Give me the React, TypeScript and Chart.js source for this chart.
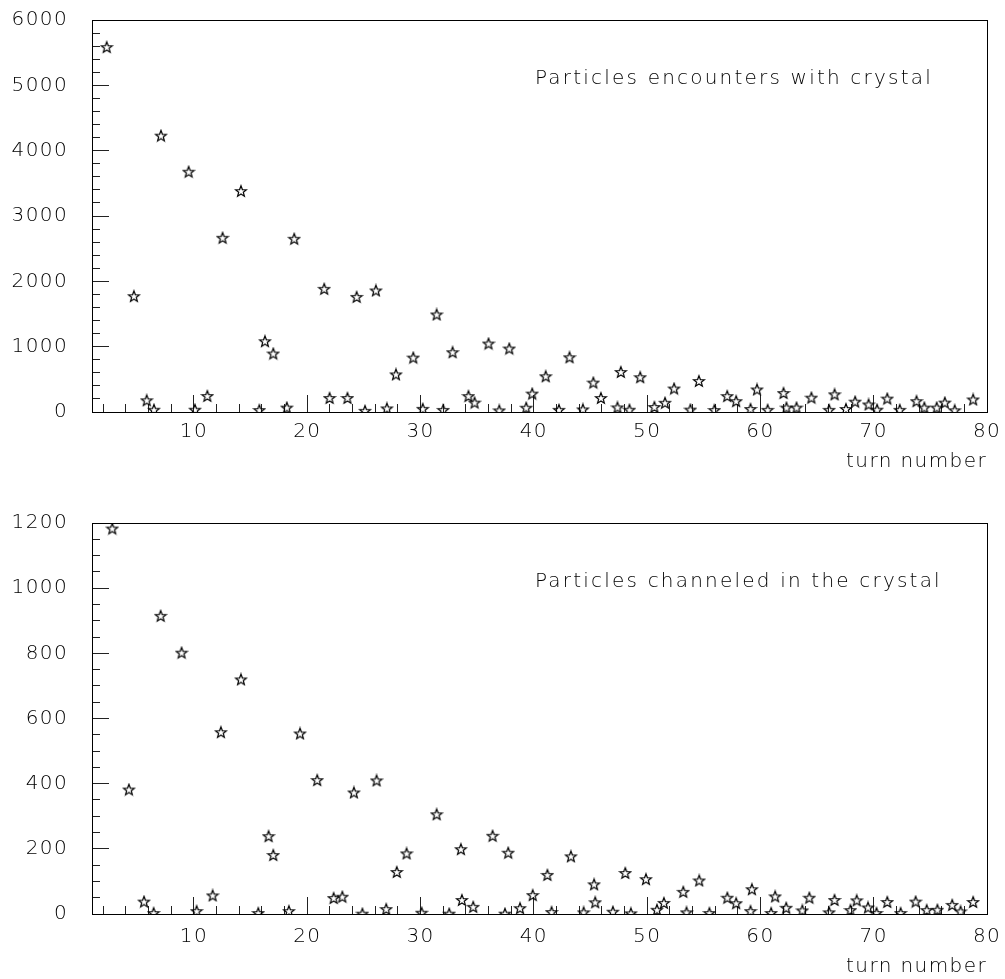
import { useEffect, useRef } from 'react';
import { Chart, registerables } from 'chart.js';

Chart.register(...registerables);

// Particles encountering the crystal, per turn
const encounterTurn = [
  2.3, 4.7, 5.83, 6.47, 7.09, 9.53, 10.09, 11.18, 12.53, 14.15,
  15.77, 16.27, 17.0, 18.2, 18.85, 21.5, 21.97, 23.55, 24.36, 25.1,
  26.06, 27.03, 27.83, 29.36, 30.2, 31.42, 32.0, 32.83, 34.23, 34.77,
  36.0, 36.95, 37.83, 39.33, 39.86, 41.05, 42.22, 43.15, 44.33, 45.25,
  45.92, 47.38, 47.68, 48.44, 49.39, 50.64, 51.58, 52.38, 53.82, 54.57,
  55.94, 57.07, 57.86, 59.13, 59.7, 60.64, 62.04, 62.3, 63.19, 64.5,
  66.07, 66.55, 67.55, 68.36, 69.55, 70.3, 71.2, 72.3, 73.78, 74.47,
  75.56, 76.28, 77.15, 78.78,
];
const encounterCount = [
  5585, 1773, 179, 35, 4230, 3678, 35, 245, 2667, 3382,
  30, 1083, 895, 67, 2651, 1885, 215, 215, 1762, 18,
  1860, 55, 575, 833, 48, 1493, 32, 915, 243, 144,
  1048, 24, 971, 66, 282, 547, 33, 838, 40, 450,
  215, 70, 613, 35, 532, 77, 141, 359, 37, 475,
  30, 243, 166, 46, 345, 33, 290, 67, 67, 220,
  33, 270, 46, 158, 115, 36, 205, 33, 166, 67,
  67, 144, 26, 192,
];

// Particles channeled in the crystal, per turn
const channeledTurn = [
  2.79, 4.26, 5.59, 6.44, 7.06, 8.91, 10.24, 11.65, 12.38, 14.15,
  15.68, 16.59, 17.0, 18.38, 19.36, 20.88, 22.33, 23.1, 24.12, 24.87,
  26.12, 26.97, 27.9, 28.77, 30.1, 31.42, 32.53, 33.56, 33.65, 34.65,
  36.36, 37.45, 37.74, 38.78, 39.9, 41.2, 41.57, 43.27, 44.4, 45.32,
  45.42, 46.98, 48.07, 48.57, 49.9, 50.87, 51.48, 53.19, 53.48, 54.6,
  55.5, 57.08, 57.86, 59.13, 59.25, 60.95, 61.3, 62.28, 63.7, 64.32,
  66.07, 66.54, 67.95, 68.5, 69.5, 70.25, 71.2, 72.38, 73.7, 74.68,
  75.62, 76.93, 77.67, 78.78,
];
const channeledCount = [
  1183, 382, 38, 3, 915, 802, 9, 57, 558, 720,
  3, 239, 181, 9, 554, 411, 49, 53, 373, 1,
  410, 15, 129, 186, 4, 306, 1, 199, 43, 22,
  240, 1, 188, 18, 58, 120, 6, 177, 5, 91,
  36, 7, 126, 2, 107, 13, 34, 68, 5, 103,
  3, 50, 33, 9, 76, 3, 54, 19, 11, 50,
  5, 43, 12, 42, 20, 3, 37, 3, 38, 12,
  13, 28, 8, 37,
];

// Axis tick positions
const turnMajorTicks = [10, 20, 30, 40, 50, 60, 70, 80];
const turnMinorTicks = [
  2, 4, 6, 8, 12, 14, 16, 18, 22, 24, 26, 28, 32, 34, 36, 38,
  42, 44, 46, 48, 52, 54, 56, 58, 62, 64, 66, 68, 72, 74, 76, 78,
];
const encounterMajorTicks = [0, 1000, 2000, 3000, 4000, 5000, 6000];
const encounterMinorTicks = [
  200, 400, 600, 800, 1200, 1400, 1600, 1800, 2200, 2400, 2600, 2800,
  3200, 3400, 3600, 3800, 4200, 4400, 4600, 4800, 5200, 5400, 5600, 5800,
];
const channeledMajorTicks = [0, 200, 400, 600, 800, 1000, 1200];
const channeledMinorTicks = [
  50, 100, 150, 250, 300, 350, 450, 500, 550, 650, 700, 750,
  850, 900, 950, 1050, 1100, 1150,
];

const FONT_FAMILY = '"DejaVu Sans", "Liberation Sans", sans-serif';
const axisFont = { family: FONT_FAMILY, size: 20, weight: 200 as any };

// Open five-pointed star marker
function makeStarMarker(): HTMLCanvasElement {
  const size = 14;
  const c = document.createElement('canvas');
  c.width = size;
  c.height = size;
  const ctx = c.getContext('2d')!;
  const cx = size / 2;
  const cy = size / 2 + 0.5;
  const outer = 5.8;
  const inner = 2.4;
  ctx.beginPath();
  for (let i = 0; i < 10; i++) {
    const a = -Math.PI / 2 + (i * Math.PI) / 5;
    const r = i % 2 === 0 ? outer : inner;
    const px = cx + r * Math.cos(a);
    const py = cy + r * Math.sin(a);
    if (i === 0) ctx.moveTo(px, py);
    else ctx.lineTo(px, py);
  }
  ctx.closePath();
  ctx.lineWidth = 1.2;
  ctx.strokeStyle = '#000';
  ctx.stroke();
  return c;
}

// Wider letter spacing for the axis text
const spacingPlugin = {
  id: 'letterSpacing',
  beforeDraw(chart: any) {
    (chart.ctx as any).letterSpacing = '1.4px';
  },
  afterDraw(chart: any) {
    (chart.ctx as any).letterSpacing = '0px';
  },
};

// Caption written inside the plot frame
const captionPlugin = {
  id: 'panelCaption',
  afterDatasetsDraw(chart: any, _args: any, opts: any) {
    const { ctx, chartArea } = chart;
    ctx.save();
    (ctx as any).letterSpacing = '2.2px';
    ctx.font = `200 20px ${FONT_FAMILY}`;
    ctx.fillStyle = '#000';
    ctx.textAlign = 'left';
    ctx.textBaseline = 'alphabetic';
    ctx.fillText(opts.text, opts.x, chartArea.top + opts.dy);
    ctx.restore();
  },
};

// Axes sit flush on the plot frame: no extra room for label overhang
const noOverhang = (s: any) => {
  s.paddingLeft = 0;
  s.paddingRight = 0;
  s.paddingTop = 0;
  s.paddingBottom = 0;
};

interface PanelSpec {
  turns: number[];
  counts: number[];
  yMax: number;
  yMajor: number[];
  yMinor: number[];
  caption: string;
  padTop: number;
  xAxisHeight: number;
  xLabelPad: number;
  xTitlePad: number;
}

function buildChart(canvas: HTMLCanvasElement, spec: PanelSpec, star: HTMLCanvasElement) {
  const setTicks = (list: number[]) => (s: any) => {
    s.ticks = list.map((v) => ({ value: v }));
  };
  const minorGrid = { drawOnChartArea: false, tickLength: -8, tickColor: '#222', tickWidth: 1 };
  const majorGrid = { drawOnChartArea: false, tickLength: -17, tickColor: '#222', tickWidth: 1 };
  const frameBorder = { display: true, color: '#000', width: 1 };

  return new Chart(canvas, {
    type: 'scatter',
    data: {
      datasets: [
        {
          data: spec.turns.map((t, i) => ({ x: t, y: spec.counts[i] })),
          pointStyle: star as any,
          pointRadius: 6,
          pointHoverRadius: 6,
          showLine: false,
          xAxisID: 'x',
          yAxisID: 'y',
        },
      ],
    },
    options: {
      responsive: false,
      animation: false,
      devicePixelRatio: 1,
      events: [],
      layout: { padding: { left: 0, right: 18, top: spec.padTop, bottom: 0 } },
      plugins: {
        legend: { display: false },
        tooltip: { enabled: false },
        panelCaption: { text: spec.caption, x: 535, dy: 64 },
      } as any,
      scales: {
        x: {
          type: 'linear',
          position: 'bottom',
          weight: 1,
          min: 1,
          max: 80,
          afterBuildTicks: setTicks(turnMajorTicks),
          afterFit: (s: any) => {
            s.height = spec.xAxisHeight;
            noOverhang(s);
          },
          ticks: {
            color: '#000',
            font: axisFont,
            padding: spec.xLabelPad,
            maxRotation: 0,
            autoSkip: false,
            callback: (v: any) => String(v),
          },
          grid: majorGrid,
          border: frameBorder,
          title: {
            display: true,
            text: 'turn number',
            align: 'end',
            color: '#000',
            font: axisFont,
            padding: { top: 0, bottom: spec.xTitlePad },
          },
        },
        xMinor: {
          type: 'linear',
          position: 'bottom',
          weight: 0,
          min: 1,
          max: 80,
          afterBuildTicks: setTicks(turnMinorTicks),
          afterFit: (s: any) => {
            s.height = 0;
            noOverhang(s);
          },
          ticks: { display: false },
          grid: minorGrid,
          border: { display: false },
        },
        xTop: {
          type: 'linear',
          position: 'top',
          min: 1,
          max: 80,
          afterFit: (s: any) => {
            s.height = 0;
            noOverhang(s);
          },
          ticks: { display: false },
          grid: { display: false },
          border: frameBorder,
        },
        y: {
          type: 'linear',
          position: 'left',
          weight: 1,
          min: 0,
          max: spec.yMax,
          afterBuildTicks: setTicks(spec.yMajor),
          afterFit: (s: any) => {
            s.width = 92;
            noOverhang(s);
          },
          ticks: {
            color: '#000',
            font: axisFont,
            padding: 41,
            autoSkip: false,
            callback: (v: any) => String(v),
          },
          grid: majorGrid,
          border: frameBorder,
        },
        yMinor: {
          type: 'linear',
          position: 'left',
          weight: 0,
          min: 0,
          max: spec.yMax,
          afterBuildTicks: setTicks(spec.yMinor),
          afterFit: (s: any) => {
            s.width = 0;
            noOverhang(s);
          },
          ticks: { display: false },
          grid: minorGrid,
          border: { display: false },
        },
        yRight: {
          type: 'linear',
          position: 'right',
          min: 0,
          max: spec.yMax,
          afterFit: (s: any) => {
            s.width = 0;
            noOverhang(s);
          },
          ticks: { display: false },
          grid: { display: false },
          border: frameBorder,
        },
      },
    } as any,
    plugins: [spacingPlugin, captionPlugin],
  });
}

export default function App() {
  const topRef = useRef<HTMLCanvasElement>(null);
  const bottomRef = useRef<HTMLCanvasElement>(null);

  useEffect(() => {
    const star = makeStarMarker();
    const top = buildChart(
      topRef.current!,
      {
        turns: encounterTurn,
        counts: encounterCount,
        yMax: 6000,
        yMajor: encounterMajorTicks,
        yMinor: encounterMinorTicks,
        caption: 'Particles encounters with crystal',
        padTop: 20,
        xAxisHeight: 78,
        xLabelPad: 25,
        xTitlePad: 16,
      },
      star,
    );
    const bottom = buildChart(
      bottomRef.current!,
      {
        turns: channeledTurn,
        counts: channeledCount,
        yMax: 1200,
        yMajor: channeledMajorTicks,
        yMinor: channeledMinorTicks,
        caption: 'Particles channeled in the crystal',
        padTop: 33,
        xAxisHeight: 65,
        xLabelPad: 28,
        xTitlePad: 0,
      },
      star,
    );
    return () => {
      top.destroy();
      bottom.destroy();
    };
  }, []);

  return (
    <div
      style={{
        position: 'fixed',
        left: 0,
        top: 0,
        width: 1005,
        height: 979,
        background: '#fff',
      }}
    >
      <canvas
        ref={topRef}
        width={1005}
        height={490}
        style={{ position: 'absolute', left: 0, top: 0, width: 1005, height: 490 }}
      />
      <canvas
        ref={bottomRef}
        width={1005}
        height={489}
        style={{ position: 'absolute', left: 0, top: 490, width: 1005, height: 489 }}
      />
    </div>
  );
}
